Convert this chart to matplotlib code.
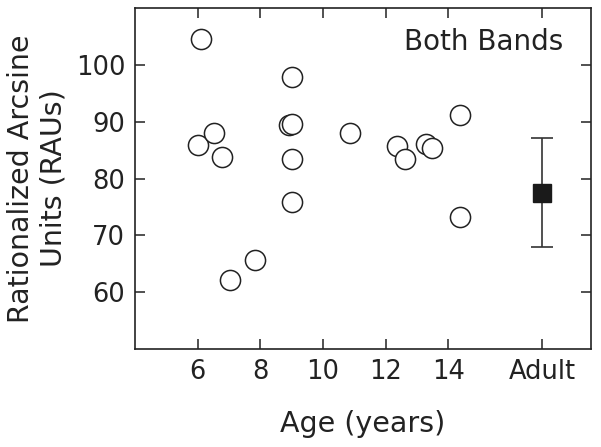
import matplotlib.pyplot as plt
import numpy as np

# child data: age (years) and score (RAU)
ages = [6.1, 6.0, 6.52, 6.78, 7.03, 7.84, 8.91, 9.02, 9.02, 9.02, 9.02,
        10.87, 12.36, 12.62, 13.29, 13.47, 14.38, 14.38]
scores = [104.5, 85.9, 88.0, 83.75, 62.2, 65.7, 89.4, 89.6, 97.9, 83.4, 75.9,
          88.1, 85.8, 83.45, 86.1, 85.4, 91.2, 73.3]

# adult mean and spread
adult_x = 17.0
adult_mean = 77.5
adult_err = 9.6

xticks = [6, 8, 10, 12, 14, 17]
xticklabels = ["6", "8", "10", "12", "14", "Adult"]
yticks = [60, 70, 80, 90, 100]

fig = plt.figure(figsize=(6.01, 4.47), dpi=100)
ax = fig.add_axes([0.2246, 0.2192, 0.7588, 0.7628])

ax.plot(ages, scores, "o", ms=14.5, mfc="white", mec="#222222", mew=1.1)
ax.errorbar(adult_x, adult_mean, yerr=adult_err, fmt="s", ms=13,
            color="#1a1a1a", ecolor="#333333", elinewidth=1.2,
            capsize=8, capthick=1.2)

ax.set_xlim(4.0, 18.55)
ax.set_ylim(50, 110)
ax.set_xticks(xticks)
ax.set_xticklabels(xticklabels)
ax.set_yticks(yticks)

ax.tick_params(direction="in", length=7, width=1.1, top=True, right=True,
               labelsize=18.5, pad=7, colors="#222222")
for s in ax.spines.values():
    s.set_linewidth(1.2)
    s.set_color("#222222")

ax.text(0.94, 0.9, "Both Bands", transform=ax.transAxes, ha="right",
        va="center", fontsize=20, color="#222222")

ax.set_xlabel("Age (years)", fontsize=20.5, labelpad=18, color="#222222")
ax.set_ylabel("Rationalized Arcsine\nUnits (RAUs)", fontsize=20.5,
              labelpad=6, color="#222222", linespacing=1.2)

fig.savefig("out.png", dpi=100)
